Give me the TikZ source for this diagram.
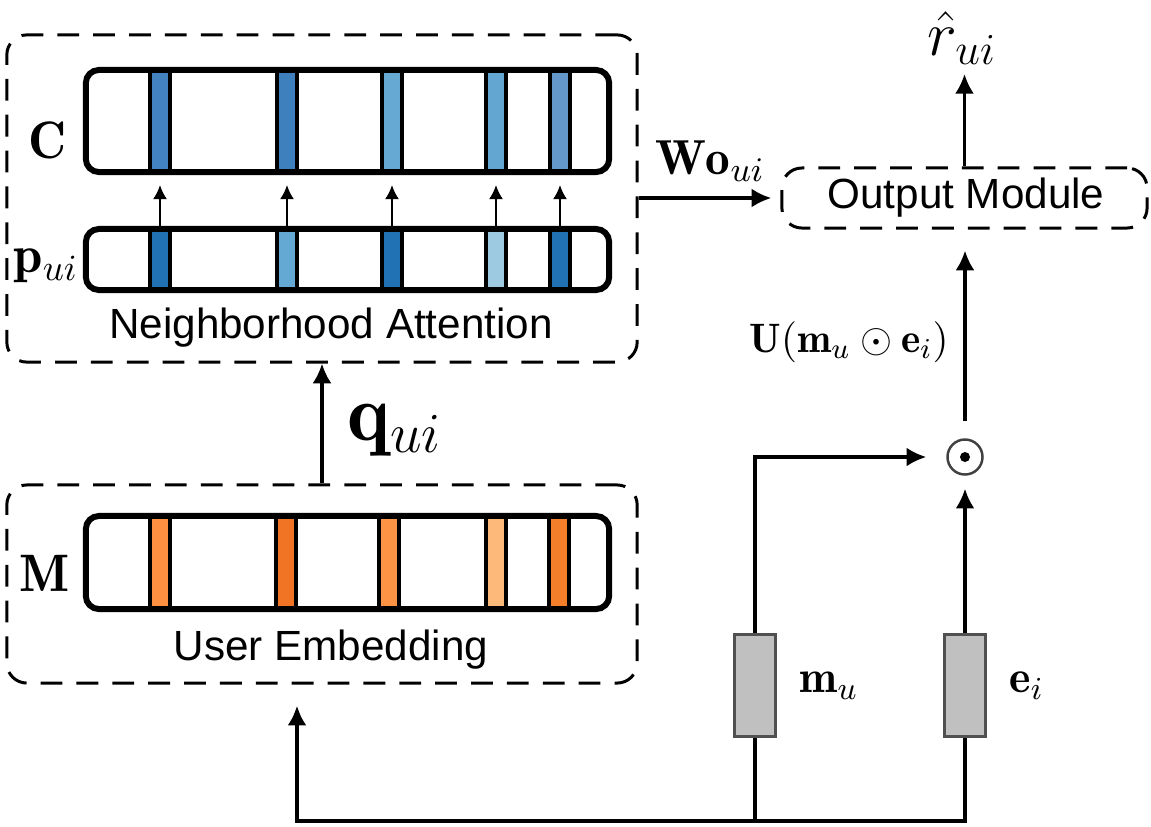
\IfFileExists{fix-cm.sty}{\RequirePackage{fix-cm}}{}
\documentclass[tikz,border=0pt]{standalone}
\usepackage{amsmath}
\usepackage{fontspec}
\newfontfamily\labelfont{Liberation Sans}
\usepackage{tikz}
\usetikzlibrary{positioning, arrows, arrows.meta, calc, shapes.geometric}
\definecolor{cOne}{HTML}{4383C0}
\definecolor{cTwo}{HTML}{3E7FBE}
\definecolor{cThree}{HTML}{66AAD3}
\definecolor{cFour}{HTML}{62A6D1}
\definecolor{cFive}{HTML}{6498CA}
\definecolor{pDark}{HTML}{2171B5}
\definecolor{pMid}{HTML}{64A9D3}
\definecolor{pLight}{HTML}{9ECAE1}
\definecolor{mOne}{HTML}{FD9141}
\definecolor{mTwo}{HTML}{F07423}
\definecolor{mThree}{HTML}{FD9445}
\definecolor{mFour}{HTML}{FDB97A}
\definecolor{mFive}{HTML}{F47F2A}
\definecolor{vecgray}{HTML}{C0C0C0}
\definecolor{vecline}{HTML}{505050}

\begin{document}
\begin{tikzpicture}[x=0.01cm, y=-0.01cm,
module/.style={draw, dash pattern=on 6.2pt off 4pt, line width=0.85pt, rounded corners=0.2cm, inner sep=0pt},
bar/.style={draw, line width=1.7pt, rounded corners=0.13cm, minimum width=5.23cm, inner sep=0pt},
stripe/.style={draw, line width=1.2pt, minimum width=0.2cm, inner sep=0pt},
vec/.style={draw=vecline, fill=vecgray, line width=0.9pt, minimum width=0.41cm, minimum height=1.02cm, inner sep=0pt},
flow/.style={-{Latex[length=5.6pt,width=5.4pt]}, line width=0.9pt},
small/.style={-{Latex[length=4pt,width=4pt]}, line width=0.6pt, shorten >=3.1pt},
txt/.style={font=\labelfont\fontsize{12}{14}\selectfont, inner sep=0pt}]
\useasboundingbox (0,0) rectangle (1151,827);

% neighborhood attention
\node[module, minimum width=6.3cm, minimum height=3.27cm] (na) at (322,198.5) {};
\foreach \x/\c [count=\i] in {160/cOne,287/cTwo,392/cThree,496/cFour,560/cFive}
  \node[stripe, fill=\c, minimum height=1.02cm] (c\i) at (\x,121) {};
\node[bar, minimum height=1.02cm] (C) at (347.5,121) {};
\foreach \x/\c [count=\i] in {160/pDark,287/pMid,392/pDark,496/pLight,560/pDark}
  \node[stripe, fill=\c, minimum height=0.61cm] (p\i) at (\x,259.5) {};
\node[bar, minimum height=0.61cm] (P) at (347.5,259.5) {};
\foreach \i in {1,...,5}
  \draw[small] (p\i.north) -- (c\i.south);
\node (Clab) at (48,140) {\fontsize{15}{17}\selectfont$\mathbf{C}$};
\node (Plab) at (46,266) {\fontsize{15}{17}\selectfont$\mathbf{p}_{ui}$};
\node[txt] (natext) at (331,328) {Neighborhood Attention};

% user embedding
\node[module, minimum width=6.3cm, minimum height=1.98cm] (ue) at (322,584) {};
\foreach \x/\c [count=\i] in {160/mOne,286/mTwo,389/mThree,496/mFour,559/mFive}
  \node[stripe, fill=\c, minimum height=0.93cm] (m\i) at (\x,562.5) {};
\node[bar, minimum height=0.93cm] (M) at (347.5,562.5) {};
\node (Mlab) at (45,573) {\fontsize{15}{17}\selectfont$\mathbf{M}$};
\node[txt] (uetext) at (331,650) {User Embedding};

\draw[flow] (ue.north) -- (na.south);
\node (q) at (395,430) {\fontsize{23}{27}\selectfont$\mathbf{q}_{ui}$};

% output side
\node[module, minimum width=3.65cm, minimum height=0.6cm] (out) at (964.5,198) {};
\node[txt] (outtext) at (966,198) {Output Module};
\node (rhat) at (962,38) {\fontsize{18}{21}\selectfont$\hat{r}_{ui}$};
\coordinate (top) at (964.5,74);
\draw[flow] (out.north) -- (top);
\draw[flow, shorten >=2.6pt] (na.east |- out.west) -- (out.west);
\node (wo) at (710,161) {\fontsize{14}{16}\selectfont$\mathbf{Wo}_{ui}$};

\node[circle, draw=black!75, line width=0.7pt, minimum size=0.35cm, inner sep=0pt] (odot) at (965,457) {};
\fill (odot.center) circle (0.05cm);
\draw[flow, shorten <=5pt, shorten >=6pt] (odot.north) -- (out.south -| odot);
\node (uterm) at (849,342) {\fontsize{11.7}{14}\selectfont$\mathbf{U}(\mathbf{m}_u\odot\mathbf{e}_i)$};

\node[vec] (mu) at (755,685.5) {};
\node[vec] (ei) at (965,685.5) {};
\node[right=0.1cm of mu] (mulab) {\fontsize{13}{15}\selectfont$\mathbf{m}_u$};
\node[right=0.1cm of ei] (eilab) {\fontsize{13}{15}\selectfont$\mathbf{e}_i$};
\draw[flow, shorten >=5.7pt] (mu.north) |- (odot.west);
\draw[flow, shorten >=3.7pt] (ei.north) -- (odot.south);

% bottom wiring
\coordinate (bl) at (297,821);
\draw[line width=1.1pt] (mu.south) -- (mu.south |- bl);
\draw[flow, line width=1.1pt, shorten >=6pt] (ei.south) |- (bl) -- (ue.south -| bl);
\end{tikzpicture}
\end{document}
